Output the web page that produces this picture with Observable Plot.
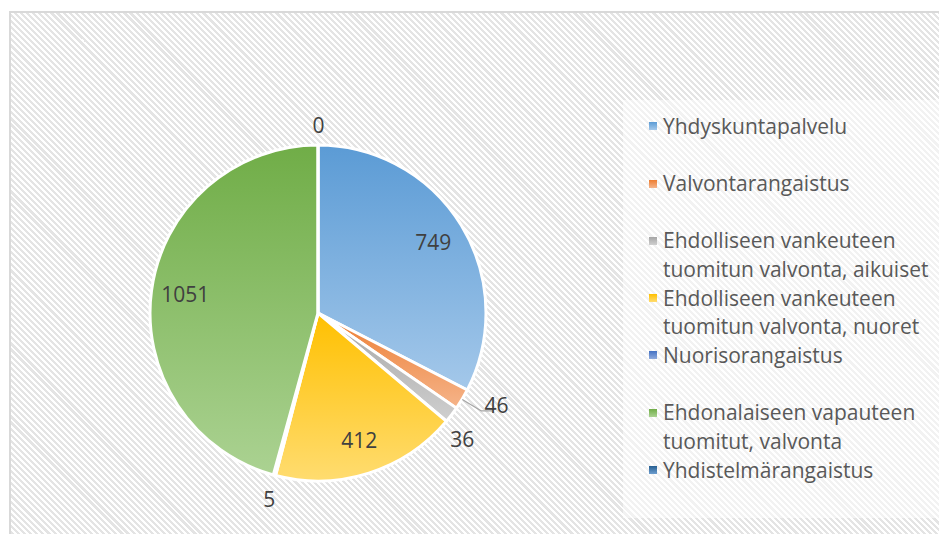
<!DOCTYPE html>
<html><head><meta charset="utf-8">
<script src="https://cdn.jsdelivr.net/npm/d3@7"></script>
<script src="https://cdn.jsdelivr.net/npm/@observablehq/plot@0.6"></script>
<style>
body{margin:0;background:#fff;}
#wrap{position:relative;width:939px;height:534px;overflow:hidden;font-family:"Open Sans",sans-serif;}
#frame{position:absolute;left:9px;top:11px;width:960px;height:560px;border:2px solid #d9d9d9;
  background:repeating-linear-gradient(45deg,#ffffff 0px,#ffffff 2.1px,#e4e4e4 2.1px,#e4e4e4 4.3px);}
#legend{position:absolute;left:623px;top:100px;width:400px;height:418px;background:rgba(255,255,255,0.5);}
#chart{position:absolute;left:0;top:0;}
.entry{position:absolute;left:40px;width:340px;font-size:21px;line-height:28.5px;color:#595959;white-space:nowrap;}
.entry span.sw{position:absolute;left:-14px;top:10.5px;width:8px;height:8px;}
</style></head><body>
<div id="wrap"><div id="frame"></div><div id="legend"></div><div id="chart"></div></div>
<script>
const categories = [
  "Yhdyskuntapalvelu",
  "Valvontarangaistus",
  "Ehdolliseen vankeuteen tuomitun valvonta, aikuiset",
  "Ehdolliseen vankeuteen tuomitun valvonta, nuoret",
  "Nuorisorangaistus",
  "Ehdonalaiseen vapauteen tuomitut, valvonta",
  "Yhdistelmärangaistus"
];
const values = [749, 46, 36, 412, 5, 1051, 0];
const darkColors  = ["#5b9bd5", "#ed7d31", "#a5a5a5", "#ffc000", "#4472c4", "#70ad47", "#255e91"];
const lightColors = ["#a4c8ea", "#f5b48a", "#cfcfcf", "#ffdc70", "#8faadc", "#abd292", "#6f9fd0"];

// layout constants
const W = 939, H = 534;
const CX = 318, CY = 313, R = 168;
const leaderCategory = "Valvontarangaistus";

const pieGen = d3.pie().sort(null).value(d => d.value).startAngle(0).endAngle(2 * Math.PI);
const arcs = pieGen(categories.map((c, i) => ({category: c, value: values[i], i})));
const total = d3.sum(values);

function polar(a, k) { return [CX + k * R * Math.sin(a), CY - k * R * Math.cos(a)]; }

let afterLeader = false;
const labels = arcs.map(a => {
  let mid = (a.startAngle + a.endAngle) / 2;
  const share = a.data.value / total;
  const inside = share > 0.1;
  let k = inside ? 0.8 : 1.13;
  if (afterLeader) { mid += 0.06; afterLeader = false; }
  let [x, y] = polar(mid, k);
  if (!inside) y += 3;
  let anchor = "middle";
  if (a.data.category === leaderCategory) {
    const [ex, ey] = polar(mid, 1.13);
    x = ex + 15; y = ey - 5; anchor = "start";
    afterLeader = true;
  }
  return {text: String(a.data.value), x, y, anchor};
});

const leader = [];
arcs.forEach(a => {
  if (a.data.category !== leaderCategory) return;
  const mid = (a.startAngle + a.endAngle) / 2;
  const [x0, y0] = polar(mid, 1.0);
  const [x1, y1] = polar(mid, 1.13);
  leader.push({x: x0, y: y0}, {x: x1, y: y1}, {x: x1 + 12, y: y1});
});

function slices(index, scales) {
  const cx = scales.x(CX), cy = scales.y(CY), r = scales.x(CX + R) - cx;
  const g = d3.create("svg:g");
  const defs = g.append("defs");
  darkColors.forEach((c, i) => {
    const lg = defs.append("linearGradient").attr("id", "sg" + i)
      .attr("x1", 0).attr("y1", 0).attr("x2", 0).attr("y2", 1);
    lg.append("stop").attr("offset", "0%").attr("stop-color", c);
    lg.append("stop").attr("offset", "100%").attr("stop-color", lightColors[i]);
  });
  const arc = d3.arc().innerRadius(0).outerRadius(r);
  g.append("g").attr("transform", `translate(${cx},${cy})`)
    .selectAll("path").data(arcs).join("path")
    .attr("d", arc)
    .attr("fill", d => `url(#sg${d.data.i})`)
    .attr("stroke", "#fff").attr("stroke-width", 3).attr("stroke-linejoin", "round");
  return g.node();
}

const chart = Plot.plot({
  width: W, height: H,
  margin: 0,
  x: {domain: [0, W], range: [0, W], axis: null},
  y: {domain: [0, H], range: [0, H], axis: null},
  style: {background: "transparent", fontFamily: "'Open Sans', sans-serif"},
  marks: [
    slices,
    Plot.line(leader, {x: "x", y: "y", stroke: "#a6a6a6", strokeWidth: 1.3}),
    Plot.text(labels, {x: "x", y: "y", text: "text", textAnchor: d => d.anchor, fontSize: 21, fill: "#404040"})
  ]
});
document.getElementById("chart").appendChild(chart);

// legend
function wrap(s, max) {
  const words = s.split(" "); const lines = []; let cur = "";
  for (const w of words) {
    if (cur && (cur + " " + w).length > max) { lines.push(cur); cur = w; }
    else cur = cur ? cur + " " + w : w;
  }
  lines.push(cur); return lines;
}
const legend = document.getElementById("legend");
categories.forEach((c, i) => {
  const e = document.createElement("div");
  e.className = "entry";
  e.style.top = (126 - 14.25 + i * 57.3 - 100) + "px";
  const sw = document.createElement("span");
  sw.className = "sw";
  sw.style.background = `linear-gradient(${darkColors[i]}, ${lightColors[i]})`;
  e.appendChild(sw);
  e.innerHTML += wrap(c, 27).join("<br>");
  legend.appendChild(e);
});
</script>
</body></html>
